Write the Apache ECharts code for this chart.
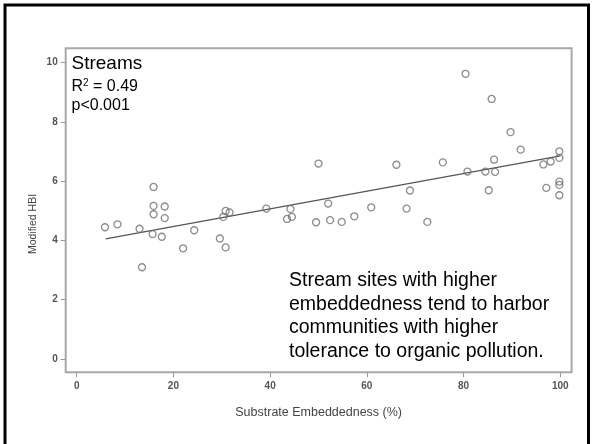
<!DOCTYPE html>
<html>
<head>
<meta charset="utf-8">
<script src="https://cdn.jsdelivr.net/npm/echarts@6/dist/echarts.min.js"></script>
<style>
html,body{margin:0;padding:0;background:#fff;}
#chart{width:592px;height:444px;}
</style>
</head>
<body>
<div id="chart"></div>
<script>
// Substrate embeddedness (%) for each stream site
const embeddedness = [5.85, 8.43, 13.0, 13.5, 15.9, 15.9, 15.9, 15.7, 17.6, 18.2, 18.2, 22.0, 24.3, 29.6, 30.8, 30.3, 30.8, 31.6, 39.2, 43.5, 44.2, 44.5, 49.5, 50.0, 52.0, 52.4, 54.8, 57.4, 60.9, 66.1, 68.2, 68.9, 72.5, 75.7, 80.4, 80.8, 84.5, 85.2, 85.8, 86.3, 86.5, 89.7, 91.8, 96.5, 97.1, 98.0, 99.8, 99.8, 99.8, 99.8, 99.8];
// Modified HBI for each stream site
const hbi = [4.44, 4.54, 4.39, 3.09, 5.80, 5.16, 4.88, 4.21, 4.12, 5.14, 4.75, 3.73, 4.34, 4.06, 3.76, 4.79, 4.99, 4.94, 5.07, 4.72, 5.06, 4.79, 4.61, 6.59, 5.24, 4.68, 4.62, 4.81, 5.11, 6.55, 5.07, 5.68, 4.62, 6.63, 9.62, 6.32, 6.32, 5.69, 8.77, 6.72, 6.31, 7.65, 7.06, 6.56, 5.77, 6.66, 7.00, 6.78, 5.98, 5.87, 5.52];
// Regression line end points
const fitX = [6.0, 100];
const fitY = [4.05, 6.85];
// Tick labels
const xTicks = [0, 20, 40, 60, 80, 100];
const yTicks = [0, 2, 4, 6, 8, 10];
const xTitle = 'Substrate Embeddedness (%)';
const yTitle = 'Modified HBI';
const noteLines = ['Stream sites with higher', 'embeddedness tend to harbor', 'communities with higher', 'tolerance to organic pollution.'];

const points = embeddedness.map((x, i) => [x, hbi[i]]);
const fitLine = fitX.map((x, i) => [x, fitY[i]]);

const chart = echarts.init(document.getElementById('chart'), null, {renderer: 'canvas'});
const tickLabel = {fontFamily: 'Liberation Sans Narrow, Arial Narrow, sans-serif', fontSize: 10, fontWeight: 'bold', color: '#555'};
const option = {
  backgroundColor: '#fff',
  animation: false,
  grid: {left: 65.7, right: 20.4, top: 48.3, bottom: 71.7, show: true, borderColor: '#a8a8a8', borderWidth: 2, backgroundColor: 'transparent'},
  xAxis: {
    type: 'value', min: -2.27, max: 102.33,
    axisLine: {show: false, onZero: false},
    splitLine: {show: false},
    axisTick: {show: true, inside: false, customValues: xTicks, length: 5, lineStyle: {color: '#999', width: 1}},
    axisLabel: {customValues: xTicks, margin: 9, ...tickLabel},
    name: xTitle, nameLocation: 'middle', nameGap: 40,
    nameTextStyle: {fontFamily: 'Liberation Sans, Arial, sans-serif', fontSize: 12.5, color: '#444', verticalAlign: 'middle'}
  },
  yAxis: {
    type: 'value', min: -0.455, max: 10.48,
    axisLine: {show: false, onZero: false},
    splitLine: {show: false},
    axisTick: {show: true, inside: false, customValues: yTicks, length: 5, lineStyle: {color: '#999', width: 1}},
    axisLabel: {customValues: yTicks, margin: 8, ...tickLabel}
  },
  graphic: [
    {type: 'rect', shape: {x: 5, y: 5, width: 583.5, height: 460}, style: {fill: 'none', stroke: '#000', lineWidth: 3}, silent: true},
    {type: 'text', x: 33, y: 224, rotation: Math.PI / 2, style: {text: yTitle, fontFamily: 'Liberation Sans, Arial, sans-serif', fontSize: 10.5, fill: '#444', textAlign: 'center', textVerticalAlign: 'middle'}},
    {type: 'text', x: 71.5, y: 63.5, style: {text: 'Streams', fontFamily: 'Liberation Sans, Arial, sans-serif', fontSize: 19, fill: '#000', textVerticalAlign: 'middle'}},
    {type: 'text', x: 71.5, y: 86.5, style: {text: 'R{s|2} = 0.49', rich: {s: {fontSize: 10, verticalAlign: 'top', padding: [0, 0, 6, 0], fontFamily: 'Liberation Sans, Arial, sans-serif', fill: '#000'}}, fontFamily: 'Liberation Sans, Arial, sans-serif', fontSize: 16, fill: '#000', textVerticalAlign: 'middle'}},
    {type: 'text', x: 71.5, y: 105.5, style: {text: 'p<0.001', fontFamily: 'Liberation Sans, Arial, sans-serif', fontSize: 16, fill: '#000', textVerticalAlign: 'middle'}},
    {type: 'text', x: 289, y: 269.3, style: {text: noteLines.join('\n'), fontFamily: 'Liberation Sans, Arial, sans-serif', fontSize: 19.5, lineHeight: 23.4, fill: '#000', textVerticalAlign: 'top'}}
  ],
  series: [
    {
      type: 'scatter', data: points, symbol: 'circle', symbolSize: 7,
      itemStyle: {color: 'transparent', borderColor: '#707070', borderWidth: 1.3},
      z: 3
    },
    {
      type: 'line', data: fitLine, symbol: 'none',
      lineStyle: {color: '#555', width: 1.2},
      z: 2
    }
  ]
};
chart.setOption(option);
</script>
</body>
</html>
